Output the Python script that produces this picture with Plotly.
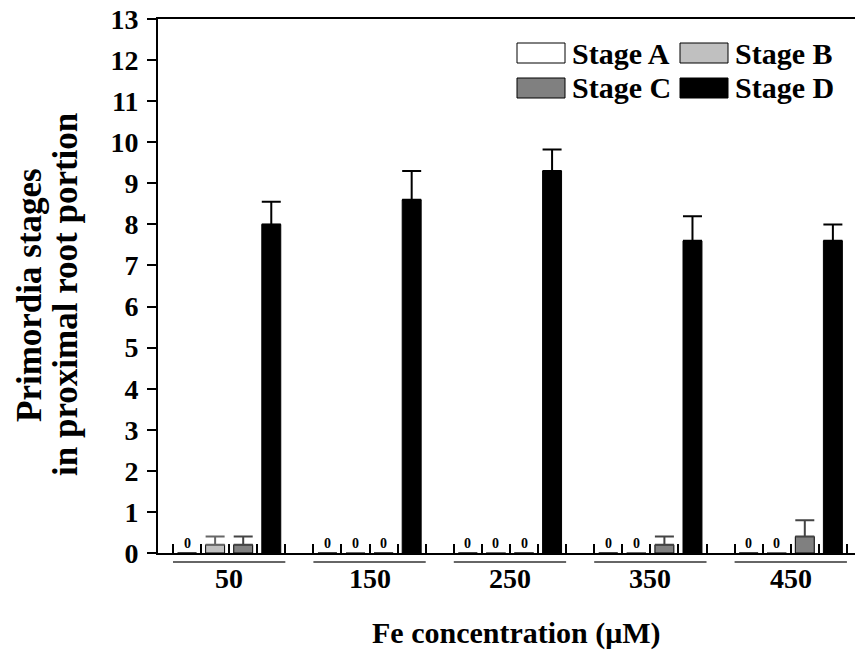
import plotly.graph_objects as go

# ---- data ----
concentrations = ["50", "150", "250", "350", "450"]
stages = ["Stage A", "Stage B", "Stage C", "Stage D"]
stage_a = [0, 0, 0, 0, 0]
stage_b = [0.2, 0, 0, 0, 0]
stage_c = [0.2, 0, 0, 0.2, 0.4]
stage_d = [8.0, 8.6, 9.3, 7.6, 7.6]
err_a = [0, 0, 0, 0, 0]
err_b = [0.2, 0, 0, 0, 0]
err_c = [0.2, 0, 0, 0.2, 0.4]
err_d = [0.55, 0.7, 0.52, 0.6, 0.4]

values = [stage_a, stage_b, stage_c, stage_d]
errors = [err_a, err_b, err_c, err_d]

# ---- style ----
fills = ["#ffffff", "#c0c0c0", "#808080", "#000000"]
err_colors = ["#555555", "#666666", "#444444", "#000000"]
FONT = "Liberation Serif, Times New Roman, serif"
W, H = 855, 652
ML, MR, MT, MB = 158, 0, 19, 99
PW, PH = W - ML - MR, H - MT - MB
SLOTS = len(stages) + 1  # one empty slot between groups


def px_x(px):
    return (px - ML) / PW


def px_y(py):
    return (H - MB - py) / PH


fig = go.Figure()
for i, (name, vals, errs) in enumerate(zip(stages, values, errors)):
    xs = [g * SLOTS + i + 0.5 for g in range(len(concentrations))]
    fig.add_trace(go.Bar(
        x=xs, y=vals, name=name, width=0.675,
        marker=dict(color=fills[i], line=dict(color="#000000", width=1)),
        error_y=dict(type="data", array=errs, arrayminus=[0] * len(errs),
                     symmetric=False, visible=any(e > 0 for e in errs),
                     color=err_colors[i], thickness=2, width=9.5),
        showlegend=False, hoverinfo="skip",
    ))
    # "0" labels above zero-valued bars
    for x, v in zip(xs, vals):
        if v == 0:
            fig.add_annotation(x=x, y=0, xref="x", yref="y", text="0",
                               showarrow=False, xanchor="center", yanchor="bottom", yshift=0,
                               font=dict(family=FONT, size=14, color="#000", weight="bold"))

n_slots = SLOTS * len(concentrations) - 1
# group labels and underlines
for g, lab in enumerate(concentrations):
    x0 = g * SLOTS
    x1 = g * SLOTS + len(stages)
    fig.add_shape(type="line", xref="x", yref="paper", x0=x0, x1=x1,
                  y0=px_y(562), y1=px_y(562), line=dict(color="#333333", width=1.5))
    fig.add_annotation(x=(x0 + x1) / 2, y=px_y(578), xref="x", yref="paper",
                       text=lab, showarrow=False, xanchor="center", yanchor="middle",
                       font=dict(family=FONT, size=28, color="#000", weight="bold"))

# custom legend (2 x 2 with large swatches)
leg_pos = [(517, 43), (680, 43), (517, 78), (680, 78)]
for (lx, ly), name, col in zip(leg_pos, stages, fills):
    fig.add_shape(type="rect", xref="paper", yref="paper",
                  x0=px_x(lx), x1=px_x(lx + 48), y0=px_y(ly), y1=px_y(ly + 20),
                  fillcolor=col, line=dict(color="#000000", width=1))
    fig.add_annotation(x=px_x(lx + 53), y=px_y(ly + 10), xref="paper", yref="paper",
                       text=name, showarrow=False, xanchor="left", yanchor="middle",
                       font=dict(family=FONT, size=30, color="#000", weight="bold"))

# axis titles
fig.add_annotation(x=px_x(516), y=px_y(633), xref="paper", yref="paper",
                   text="Fe concentration (\u03bcM)", showarrow=False,
                   xanchor="center", yanchor="middle",
                   font=dict(family=FONT, size=30, color="#000", weight="bold"))
fig.add_annotation(x=px_x(30), y=px_y(295), xref="paper", yref="paper",
                   text="Primordia stages", showarrow=False, textangle=-90,
                   xanchor="center", yanchor="middle",
                   font=dict(family=FONT, size=35, color="#000", weight="bold"))
fig.add_annotation(x=px_x(66), y=px_y(295), xref="paper", yref="paper",
                   text="in proximal root portion", showarrow=False, textangle=-90,
                   xanchor="center", yanchor="middle",
                   font=dict(family=FONT, size=35, color="#000", weight="bold"))

x_lo = -(173 - ML) / 28.08
x_hi = x_lo + PW / 28.08

fig.update_layout(
    width=W, height=H,
    margin=dict(l=ML, r=MR, t=MT, b=MB, pad=0),
    paper_bgcolor="white", plot_bgcolor="white",
    barmode="overlay", hovermode=False,
    font=dict(family=FONT, color="#000"),
    xaxis=dict(range=[x_lo, x_hi], tickvals=list(range(n_slots + 1)),
               ticktext=[""] * (n_slots + 1), ticks="inside", ticklen=9,
               tickwidth=1.5, tickcolor="#000", showline=True, linewidth=2,
               linecolor="#000", mirror=True, showgrid=False, zeroline=False),
    yaxis=dict(range=[0, 13], tickvals=list(range(14)), ticks="outside",
               ticklen=9, tickwidth=1.5, tickcolor="#000", showline=True,
               linewidth=2, linecolor="#000", showgrid=False, zeroline=False,
               tickfont=dict(family=FONT, size=28, color="#000", weight="bold"),
               ticklabelstandoff=3),
)

fig.write_html("out.html", config={"displayModeBar": False},
               post_script="document.body.style.margin='0';document.body.style.overflow='hidden';")
